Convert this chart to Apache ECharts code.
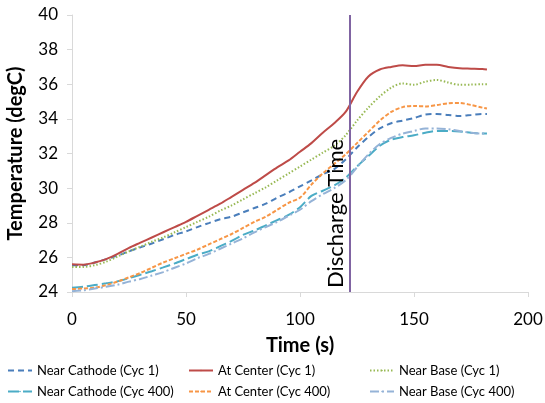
<!DOCTYPE html>
<html><head><meta charset="utf-8">
<script src="https://cdn.jsdelivr.net/npm/echarts@6/dist/echarts.min.js"></script>
<style>html,body{margin:0;padding:0;background:#fff}#c{width:545px;height:403px}</style>
</head><body><div id="c"></div>
<script>
var times = [0,5,10,15,20,25,30,35,40,45,50,55,60,65,70,75,80,85,90,95,100,105,110,115,120,125,130,135,140,145,150,155,160,165,170,175,180,182];
var nearCathode1 = [25.55,25.55,25.7,25.9,26.1,26.35,26.58,26.8,27.05,27.3,27.5,27.75,27.98,28.2,28.35,28.6,28.85,29.1,29.45,29.75,30.1,30.45,30.8,31.1,31.65,32.35,32.95,33.45,33.75,33.9,34.05,34.25,34.28,34.22,34.17,34.22,34.28,34.28];
var atCenter1 = [25.6,25.58,25.7,25.9,26.2,26.55,26.85,27.15,27.45,27.75,28.05,28.4,28.75,29.1,29.5,29.9,30.3,30.75,31.2,31.6,32.1,32.6,33.2,33.75,34.4,35.55,36.45,36.85,37.0,37.1,37.05,37.12,37.12,37.0,36.92,36.9,36.88,36.85];
var nearBase1 = [25.45,25.45,25.55,25.75,26.05,26.35,26.62,26.9,27.15,27.45,27.75,28.05,28.35,28.7,29.0,29.35,29.7,30.05,30.45,30.85,31.25,31.65,32.05,32.45,33.05,33.9,34.65,35.3,35.8,36.05,35.97,36.15,36.25,36.1,35.97,35.98,36.0,36.0];
var nearCathode400 = [24.25,24.3,24.4,24.5,24.62,24.8,25.0,25.2,25.42,25.65,25.9,26.15,26.35,26.65,26.95,27.3,27.55,27.85,28.15,28.45,28.9,29.55,29.85,30.15,30.6,31.25,31.85,32.45,32.8,32.95,33.05,33.2,33.3,33.3,33.27,33.2,33.15,33.15];
var atCenter400 = [24.17,24.2,24.25,24.4,24.6,24.85,25.1,25.4,25.7,25.95,26.2,26.45,26.75,27.05,27.35,27.7,28.05,28.35,28.75,29.15,29.45,30.2,30.85,31.4,31.95,32.6,33.25,33.9,34.4,34.68,34.75,34.72,34.8,34.9,34.92,34.8,34.65,34.6];
var nearBase400 = [24.05,24.1,24.2,24.3,24.42,24.6,24.75,24.95,25.15,25.4,25.65,25.95,26.2,26.5,26.8,27.1,27.45,27.75,28.05,28.4,28.75,29.25,29.65,30.0,30.45,31.2,31.95,32.55,32.9,33.15,33.3,33.45,33.45,33.4,33.3,33.2,33.15,33.15];
var dischargeTime = 122;
var seriesNames = ['Near Cathode (Cyc 1)','At Center (Cyc 1)','Near Base (Cyc 1)','Near Cathode (Cyc 400)','At Center (Cyc 400)','Near Base (Cyc 400)'];

function pairs(v){ return times.map(function(t,i){ return [t, v[i]]; }); }
var FONT = 'Lato';
function mk(name, data, color, type, width){
  return {
    name: name, type: 'line', data: pairs(data), symbol: 'none', smooth: 0.3,
    lineStyle: {color: color, width: width || 2, type: type},
    itemStyle: {color: color}
  };
}
var series = [
  mk(seriesNames[0], nearCathode1, '#4a7ebb', [6,4]),
  mk(seriesNames[1], atCenter1, '#be4b48', 'solid'),
  mk(seriesNames[2], nearBase1, '#98b954', [1.5,2]),
  mk(seriesNames[3], nearCathode400, '#4bacc6', [11,4]),
  mk(seriesNames[4], atCenter400, '#f79646', [4,2]),
  mk(seriesNames[5], nearBase400, '#95b3d7', [9,3,2,3])
];
series[1].markLine = {
  silent: true, symbol: 'none',
  lineStyle: {color: '#8064a2', width: 2, type: 'solid'},
  label: {show: true, formatter: 'Discharge Time', position: 'insideStartTop', color: '#000', fontFamily: FONT, fontSize: 22, distance: [4, 3]},
  data: [{xAxis: dischargeTime}]
};
var legendLeft = [2, 183, 364];
var legendTop = [359, 380];
var legends = seriesNames.map(function(n, i){
  return {
    orient: 'horizontal', left: legendLeft[i % 3], top: legendTop[Math.floor(i / 3)],
    itemWidth: 24, itemHeight: 2, itemGap: 4,
    textStyle: {fontFamily: FONT, fontSize: 13, color: '#000'},
    data: [n]
  };
});
var option = {
  animation: false,
  grid: {left: 72, right: 17, top: 15, bottom: 111, containLabel: false, outerBoundsMode: 'none'},
  xAxis: {
    type: 'value', min: 0, max: 200, interval: 50,
    name: 'Time (s)', nameLocation: 'middle', nameGap: 44,
    nameTextStyle: {fontFamily: FONT, fontWeight: 'bold', fontSize: 20, color: '#000'},
    axisLine: {show: true, lineStyle: {color: '#d9d9d9', width: 1}},
    axisTick: {show: true, length: 5, lineStyle: {color: '#d9d9d9'}},
    axisLabel: {fontFamily: FONT, fontSize: 17, color: '#000', margin: 19},
    splitLine: {show: false}
  },
  yAxis: {
    type: 'value', min: 24, max: 40, interval: 2,
    name: 'Temperature (degC)', nameLocation: 'middle', nameGap: 46,
    nameTextStyle: {fontFamily: FONT, fontWeight: 'bold', fontSize: 20, color: '#000'},
    axisLine: {show: true, lineStyle: {color: '#d9d9d9', width: 1}},
    axisTick: {show: true, length: 5, lineStyle: {color: '#d9d9d9'}},
    axisLabel: {fontFamily: FONT, fontSize: 17, color: '#000', margin: 14},
    splitLine: {show: false}
  },
  legend: legends,
  series: series
};
var chart = echarts.init(document.getElementById('c'), null, {renderer: 'canvas'});
chart.setOption(option);
</script></body></html>
